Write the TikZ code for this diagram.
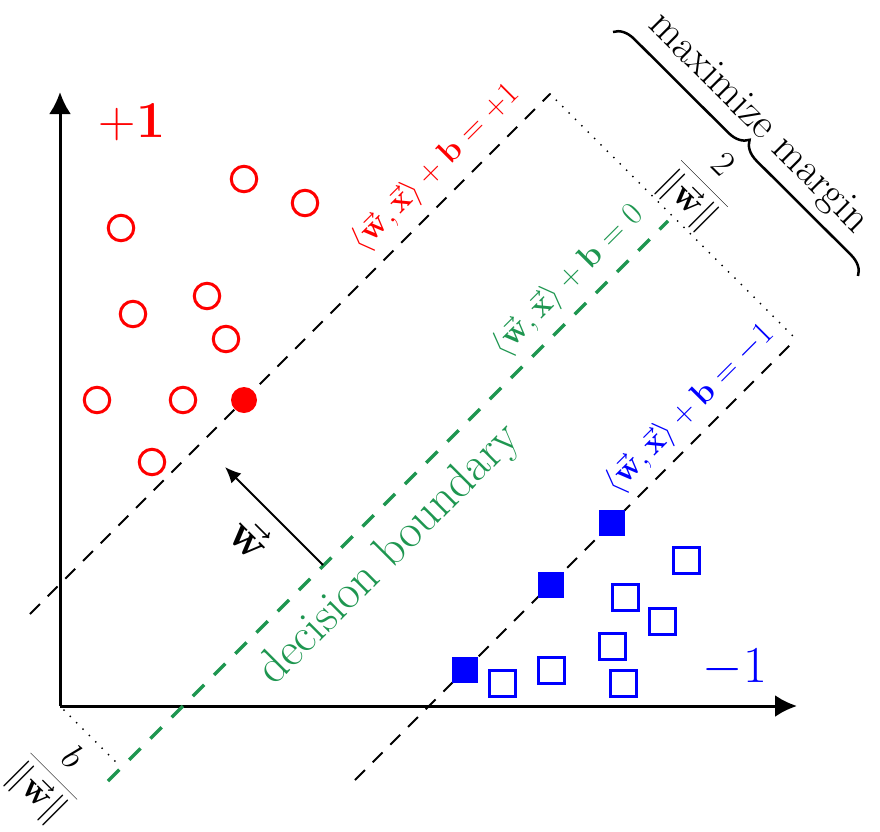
\RequirePackage{fix-cm}
\documentclass[tikz,border=0pt]{standalone}
\usetikzlibrary{arrows.meta,decorations.pathreplacing}
\definecolor{bgreen}{RGB}{30,150,80}
\begin{document}
\begin{tikzpicture}[x=1pt,y=-1pt,
 pospt/.style={circle,draw=red,line width=3pt,minimum size=25.5pt,inner sep=0pt},
 posfpt/.style={circle,fill=red,minimum size=26pt,inner sep=0pt},
 negpt/.style={rectangle,draw=blue,line width=3pt,minimum size=26pt,inner sep=0pt},
 negfpt/.style={rectangle,fill=blue,minimum size=26pt,inner sep=0pt},
 marginline/.style={line width=1.8pt, dash pattern=on 14pt off 11pt},
 boundary/.style={bgreen, line width=3.5pt, dash pattern=on 16pt off 14pt},
 dotline/.style={line width=2pt, dash pattern=on 0pt off 9pt, line cap=round},
 axisline/.style={line width=3pt, -{Latex[length=22pt,width=22pt]}},
 lbl/.style={font=\fontsize{32.4}{38}\selectfont, rotate=45, inner sep=0pt},
 nrm/.style={font=\fontsize{36}{43}\selectfont, inner sep=0pt}
]
\useasboundingbox (0,0) rectangle (880,831);
% axes
\coordinate (O) at (60,706);
\coordinate (X) at (797,706);
\coordinate (Y) at (60,92);
\draw[axisline] (O) -- (X);
\draw[axisline] (O) -- (Y);
% lines
\coordinate (u1) at (30,614);
\coordinate (u2) at (550,94);
\coordinate (g1) at (108,781);
\coordinate (g2) at (668,221);
\coordinate (l1) at (355,780);
\coordinate (l2) at (796,339);
\coordinate (o1) at (64,710);
\coordinate (o2) at (121,767);
\draw[marginline] (u1) -- (u2);
\draw[marginline] (l1) -- (l2);
\draw[boundary] (g1) -- (g2);
\draw[dotline] (u2) -- (l2);
\draw[dotline] (o1) -- (o2);
% positive points
\node[pospt] (p1) at (244,179) {};
\node[pospt] (p2) at (305,203) {};
\node[pospt] (p3) at (121,228) {};
\node[pospt] (p4) at (133,314) {};
\node[pospt] (p5) at (207,296) {};
\node[pospt] (p6) at (226,339) {};
\node[pospt] (p7) at (97,400) {};
\node[pospt] (p8) at (183,400) {};
\node[posfpt] (p9) at (244,400) {};
\node[pospt] (p10) at (152,462) {};
% negative points
\node[negfpt] (n1) at (612,523) {};
\node[negfpt] (n2) at (551,585) {};
\node[negfpt] (n3) at (465,670) {};
\node[negpt] (n4) at (686,560) {};
\node[negpt] (n5) at (625,597) {};
\node[negpt] (n6) at (662,621) {};
\node[negpt] (n7) at (612,646) {};
\node[negpt] (n8) at (502,683) {};
\node[negpt] (n9) at (551,670) {};
\node[negpt] (n10) at (623,683) {};
% w arrow
\coordinate (wa) at (323,565);
\coordinate (wb) at (225,467);
\draw[line width=2pt, -{Latex[length=16pt,width=14pt]}] (wa) -- (wb);
\node[rotate=-45, font=\fontsize{46}{54}\selectfont, inner sep=0pt] (wl) at (251,538) {$\vec{\mathbf{w}}$};
% labels
\node[lbl, text=red] (lp) at (436,168) {$\langle\vec{\mathbf{w}},\vec{\mathbf{x}}\rangle+\mathbf{b}=+1$};
\node[lbl, text=bgreen] (lg) at (568,281) {$\langle\vec{\mathbf{w}},\vec{\mathbf{x}}\rangle+\mathbf{b}=0$};
\node[lbl, text=blue] (lb) at (690,409) {$\langle\vec{\mathbf{w}},\vec{\mathbf{x}}\rangle+\mathbf{b}=-1$};
\node[rotate=45, text=bgreen, font=\fontsize{48}{56}\selectfont, inner sep=0pt] (db) at (390,555) {decision boundary};
\node[text=red, font=\fontsize{51.8}{60}\selectfont, inner sep=0pt] (plus) at (132,122) {$\mathbf{+1}$};
\node[text=blue, font=\fontsize{51.8}{60}\selectfont, inner sep=0pt] (minus) at (735,668) {$-1$};
% fractions
\node[nrm, rotate=-45] (two) at (703,185) {$\displaystyle\frac{2}{\|\vec{\mathbf{w}}\|}$};
\node[nrm, rotate=-45] (bw) at (53,777) {$\displaystyle\frac{b}{\|\vec{\mathbf{w}}\|}$};
% brace
\coordinate (br1) at (613,32);
\coordinate (br2) at (858,276);
\draw[line width=2.5pt, decorate, decoration={brace, amplitude=20pt}] (br1) -- (br2);
\node[rotate=-45, font=\fontsize{42.5}{50}\selectfont, inner sep=0pt] (mm) at (758,124) {maximize margin};
\end{tikzpicture}
\end{document}
